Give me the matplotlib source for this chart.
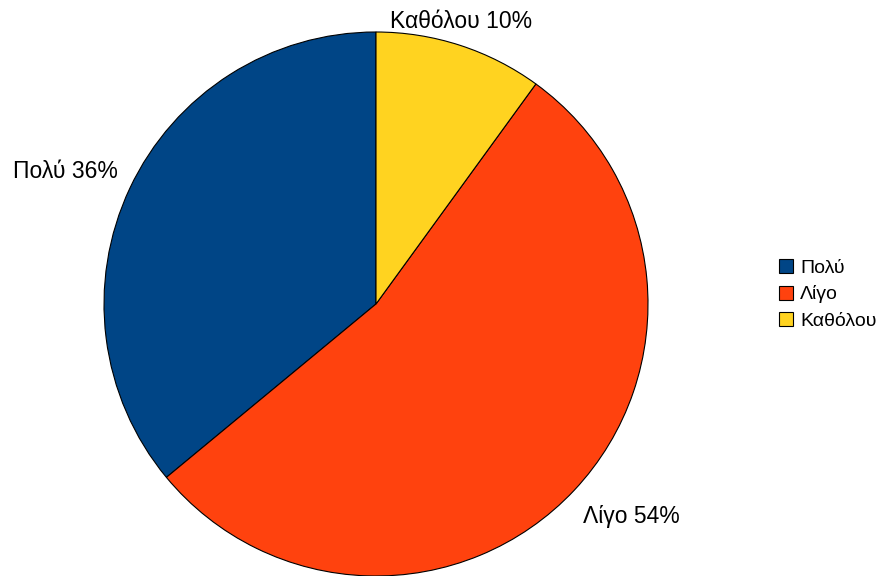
import matplotlib.pyplot as plt

plt.rcParams['font.family'] = ['Liberation Sans', 'DejaVu Sans']

labels = ['Πολύ', 'Λίγο', 'Καθόλου']
values = [36, 54, 10]
colors = ['#004586', '#ff420e', '#ffd320']

# label anchor spots (in pie radius units) and alignment
label_pos = [(-0.949, 0.463, 'right'), (0.761, -0.806, 'left'), (0.3125, 1.015, 'center')]

fig = plt.figure(figsize=(8.91, 5.76), dpi=100)
ax = fig.add_axes([104 / 891, 0, 544 / 891, 544 / 576])

wedges, texts = ax.pie(values, labels=[l + ' %d%%' % v for l, v in zip(labels, values)],
                       colors=colors, startangle=90, counterclock=True,
                       wedgeprops=dict(edgecolor='black', linewidth=0.8),
                       textprops=dict(fontsize=16.5))
for t, (x, y, ha) in zip(texts, label_pos):
    t.set_position((x, y))
    t.set_ha(ha)
    t.set_va('baseline')
ax.set_xlim(-1, 1)
ax.set_ylim(-1, 1)
ax.set_aspect('equal')

fig.legend(wedges, labels, loc='upper left', bbox_to_anchor=(771 / 891, 1 - 251 / 576),
           frameon=False, fontsize=14, handlelength=0.75, handleheight=0.75,
           handletextpad=0.35, labelspacing=0.45, borderaxespad=0)

fig.savefig('out.png', dpi=100)
